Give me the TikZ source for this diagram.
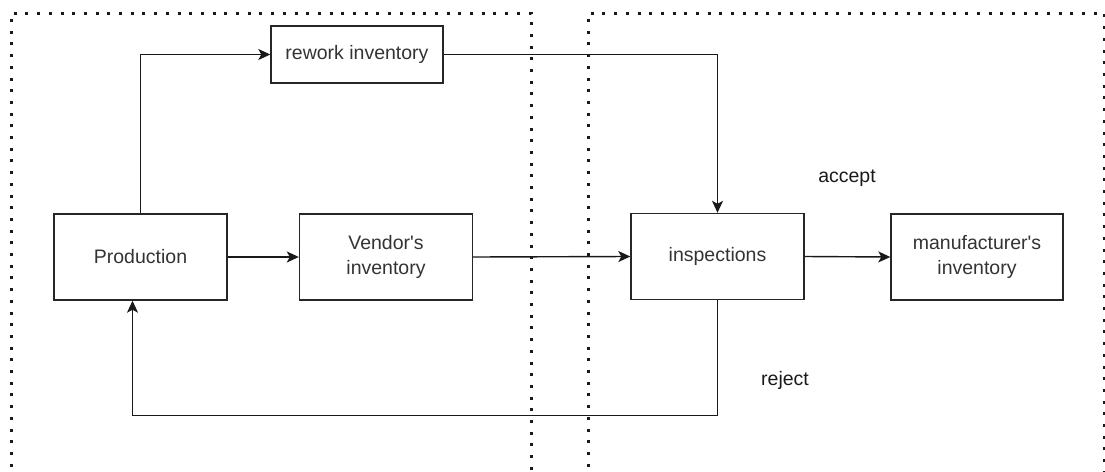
\documentclass[tikz,border=0pt]{standalone}
\usepackage{fontspec}
\setmainfont{Liberation Sans}
\usetikzlibrary{arrows.meta,calc}
\definecolor{txtgray}{HTML}{333333}
\definecolor{lblgray}{HTML}{1A1A1A}
\begin{document}
\begin{tikzpicture}[x=1pt,y=-1pt,
  boxnode/.style={draw=black!85,line width=1.4pt,inner sep=0pt,minimum width=173pt,minimum height=86pt,align=center,text=txtgray,font=\fontsize{19.5}{25}\selectfont},
  flow/.style={draw=black!90,line width=1.4pt,-{Stealth[length=12pt,width=11pt,inset=3pt]}},
  zone/.style={draw=black!90,line width=3pt,dash pattern=on 3pt off 8.7pt},
  lbl/.style={text=lblgray,font=\fontsize{19.5}{25}\selectfont,inner sep=0pt}]
\useasboundingbox (0,0) rectangle (1105,471);
\draw[zone] (11,490) -- (11,13) -- (531,13) -- (531,490);
\draw[zone] (588,490) -- (588,13) -- (1104,13) -- (1104,490);
\node[boxnode,minimum height=57pt,minimum width=172pt] (rework) at (357,54.5) {rework inventory};
\node[boxnode] (prod) at (140.5,257) {Production};
\node[boxnode] (vendor) at (386,257) {Vendor\textquotesingle s\\inventory};
\node[boxnode] (insp) at (717.5,256.5) {inspections};
\node[boxnode,minimum width=172pt] (manu) at (977,257) {manufacturer\textquotesingle s\\inventory};
\node[lbl] (accept) at (847,178) {accept};
\node[lbl] (reject) at (785,380) {reject};
\draw[flow] (prod.north) |- (rework.west);
\draw[flow] (rework.east) -| (insp.north);
\draw[flow] (prod.east) -- (vendor.west);
\draw[flow] (vendor.east) -- (insp.west);
\draw[flow] (insp.east) -- (manu.west);
\coordinate (pin) at ($(prod.south)+(-8,0)$);
\draw[flow] (insp.south) -- ++(0,115) -| (pin);
\end{tikzpicture}
\end{document}
